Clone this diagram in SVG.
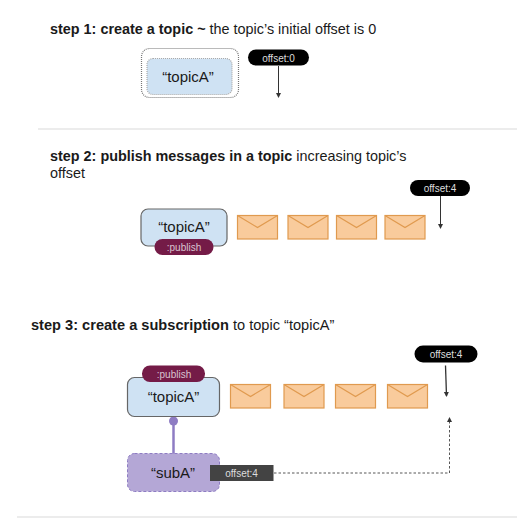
<svg xmlns="http://www.w3.org/2000/svg" width="517" height="518" viewBox="0 0 517 518">
<style>
text{font-family:"Liberation Sans",Arial,sans-serif;fill:#1a1a1a}
.t{font-size:14.400px}
.b{font-weight:700}
.c{text-anchor:middle}
.n{font-size:15px}
.w{font-size:10px;fill:#dddddd;text-anchor:middle}
.topic{fill:#cfe2f3;stroke:#666;stroke-width:1.200}
.pub{fill:#741b47}
.blk{fill:#000}
.env{fill:#f9cb9c;stroke:#e09a4f;stroke-width:1.200}
.fl{fill:none;stroke:#e09a4f;stroke-width:1.200}
.sep{stroke:#d9d9d9;stroke-width:1}
.arr{stroke:#333;stroke-width:1;fill:none}
.dash{stroke:#444;stroke-width:.9;fill:none;stroke-dasharray:2.500 2}
</style>
<defs>
<marker id="ah" markerWidth="6" markerHeight="6" refX="4" refY="2.500" orient="auto" markerUnits="userSpaceOnUse"><path d="M0 0L5 2.500L0 5z" fill="#333"/></marker>
<g id="e"><rect class="env" x="0" y="0" width="40" height="23.500"/><path class="fl" d="M0 0L20 12L40 0"/></g>
</defs>
<g id="headings">
<text class="t" x="50" y="34"><tspan class="b">step 1: create a topic ~ </tspan>the topic’s initial offset is 0</text>
<text class="t" x="50" y="161"><tspan class="b">step 2: publish messages in a topic </tspan>increasing topic’s</text>
<text class="t" x="50" y="178">offset</text>
<text class="t" x="31" y="330" style="font-size:14.600px"><tspan class="b">step 3: create a subscription </tspan>to topic “topicA”</text>
</g>
<g id="separators">
<line class="sep" x1="38" y1="129" x2="517" y2="129"/>
<line class="sep" x1="17" y1="517" x2="517" y2="517"/>
</g>
<g id="connectors">
<path class="arr" marker-end="url(#ah)" d="M278.500 66V97"/>
<path class="arr" marker-end="url(#ah)" d="M440.500 196V228"/>
<path class="arr" style="stroke-width:1.300" marker-end="url(#ah)" d="M445.500 365.500L446.500 396"/>
<path class="dash" marker-end="url(#ah)" d="M274 473H449.500V418"/>
<line x1="173.500" y1="421" x2="173.500" y2="454" stroke="#8e7cc3" stroke-width="2.500"/>
<circle cx="173.500" cy="421" r="4.500" fill="#8e7cc3"/>
</g>
<g id="step1-topic">
<rect x="141.500" y="48.500" width="97" height="49" rx="8" fill="none" stroke="#777" stroke-width="1.200" stroke-dasharray="1 1"/>
<rect x="147" y="58.500" width="85" height="36" rx="6" fill="#cfe2f3" stroke="#aaa" stroke-width="1.200" stroke-dasharray="1 1"/>
<text class="n c" x="188" y="82">“topicA”</text>
</g>
<g id="step1-offset">
<rect class="blk" x="248" y="49.500" width="61" height="16" rx="8"/>
<text class="w" x="278.500" y="61.500">offset:0</text>
</g>
<g id="step2-topic">
<rect class="topic" x="141" y="209" width="86" height="37" rx="7"/>
<text class="n c" x="184" y="232">“topicA”</text>
<rect class="pub" x="154.500" y="239" width="59" height="16" rx="8"/>
<text class="w" x="184" y="251" style="fill:#d9c4d0">:publish</text>
</g>
<g id="step2-offset">
<rect class="blk" x="410" y="180" width="60" height="16" rx="8"/>
<text class="w" x="440" y="192">offset:4</text>
</g>
<g id="step2-m1"><use href="#e" x="237.500" y="215.500"/></g>
<g id="step2-m2"><use href="#e" x="288" y="215.500"/></g>
<g id="step2-m3"><use href="#e" x="336.500" y="215.500"/></g>
<g id="step2-m4"><use href="#e" x="385" y="215.500"/></g>
<g id="step3-topic">
<rect class="topic" x="127.500" y="377.500" width="92" height="39" rx="7"/>
<text class="n c" x="173.500" y="402">“topicA”</text>
<rect class="pub" x="142" y="365.500" width="63" height="16.500" rx="8"/>
<text class="w" x="174" y="378" style="fill:#d9c4d0">:publish</text>
</g>
<g id="step3-offset">
<rect class="blk" x="414.500" y="345.500" width="63" height="17" rx="8.500"/>
<text class="w" x="446" y="358">offset:4</text>
</g>
<g id="step3-m1"><use href="#e" x="230.500" y="384.500"/></g>
<g id="step3-m2"><use href="#e" x="284" y="384.500"/></g>
<g id="step3-m3"><use href="#e" x="335.500" y="384.500"/></g>
<g id="step3-m4"><use href="#e" x="387.500" y="384.500"/></g>
<g id="step3-sub">
<rect x="127.500" y="453.500" width="92" height="38" rx="7" fill="#b4a7d6" stroke="#8e7cc3" stroke-width="1" stroke-dasharray="3 2"/>
<text class="n c" x="173" y="478">“subA”</text>
</g>
<g id="step3-suboffset">
<rect x="210" y="465" width="63.500" height="16" fill="#434343"/>
<text class="w" x="241.500" y="477">offset:4</text>
</g>
</svg>
